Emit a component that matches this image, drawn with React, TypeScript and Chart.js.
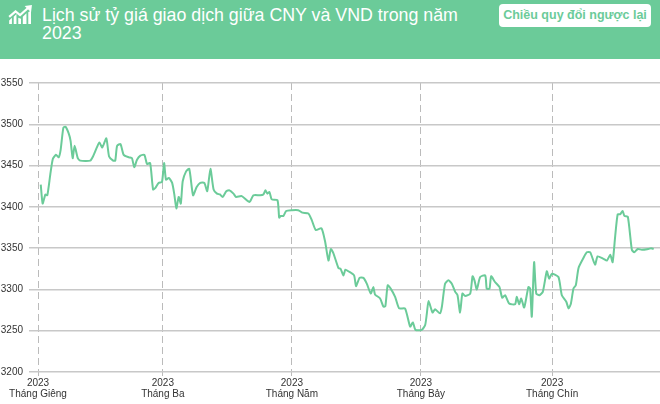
import { useEffect, useRef } from 'react'
import { Chart, registerables } from 'chart.js'

Chart.register(...registerables)

const title = 'Lịch sử tỷ giá giao dịch giữa CNY và VND trong năm 2023'
const buttonLabel = 'Chiều quy đổi ngược lại'

// x = days since 1 Jan 2023
const days = [
  1.3, 2.2, 3.5, 4.4, 5.8, 7, 8.5, 9.8, 10.7, 12, 13, 14.5, 15.4, 16.4, 17.3, 18.8, 20, 24.7, 26, 28,
  29, 30.4, 32.3, 33.6, 35.5, 36.5, 37.4, 39, 40.5, 43, 44.4, 45.5, 46.8, 48.4, 50.3, 51.5, 53, 54.4, 55.5, 57,
  58.6, 59.6, 60.5, 61.8, 63.4, 64.5, 65.4, 66.5, 67.5, 68.4, 70, 71.5, 73.3, 75, 76.7, 78.6, 80, 81.5, 83, 84.6,
  86, 87.3, 89, 90.5, 92.4, 93.6, 96.3, 100, 101.8, 105, 106.5, 107.5, 108.4, 109.4, 110.5, 113.2, 114, 114.7, 116, 117.3,
  120, 123, 125, 127.8, 129.4, 131.3, 134, 135.7, 137.3, 138.4, 139.6, 142, 143, 144.4, 145.3, 146.7, 149.4, 150.3, 152, 153.8,
  155.4, 157.3, 158.5, 159.3, 161.7, 163.3, 164.2, 165.3, 166.7, 168.8, 170.7, 173.5, 175.9, 177.2, 178.4, 181.4, 183, 183.8, 184.6, 186.5,
  187.7, 190, 190.9, 192.4, 194, 195.6, 197.2, 198.3, 199.5, 200.6, 201.9, 204.3, 205.4, 206.3, 207.4, 209, 211.4, 212.1, 213.4, 214.2,
  216, 218.1, 219.4, 220.8, 222.7, 225.5, 226.3, 227.4, 228.4, 229.8, 231.8, 232.6, 233.4, 234.5, 235.5, 237, 238.6, 240.5, 241.6, 242.9,
  246, 247.6, 249.7, 250.8, 251.9, 253.1, 254.2, 255.5, 257.8, 259.4, 261, 263.3, 264.5, 267.3, 268.9, 270.5, 271.6, 272.8, 274, 275.2,
  276.3, 277.2, 278.8, 280.7, 281.8, 283.5, 285.4, 288.5, 289.8, 291,
]

const rates = [
  3427, 3404, 3415, 3414, 3439, 3458, 3463, 3460, 3469, 3496, 3497, 3489, 3480, 3459, 3474, 3459, 3456, 3456, 3461, 3473,
  3478, 3472, 3483, 3461, 3456, 3456, 3474, 3476, 3463, 3460, 3459, 3448, 3457, 3462, 3463, 3452, 3453, 3421, 3423, 3429,
  3430, 3453, 3433, 3435, 3429, 3414, 3398, 3412, 3404, 3431, 3443, 3446, 3414, 3424, 3429, 3429, 3419, 3446, 3421, 3416,
  3415, 3412, 3419, 3420, 3416, 3412, 3413, 3406, 3414, 3414, 3415, 3420, 3416, 3418, 3409, 3408, 3387, 3389, 3389, 3395,
  3396, 3396, 3393, 3392, 3384, 3372, 3374, 3358, 3335, 3349, 3344, 3326, 3325, 3317, 3324, 3322, 3317, 3304, 3314, 3314,
  3307, 3295, 3303, 3294, 3289, 3279, 3280, 3305, 3301, 3291, 3277, 3277, 3255, 3260, 3251, 3251, 3257, 3271, 3286, 3272,
  3276, 3271, 3279, 3307, 3311, 3307, 3297, 3293, 3272, 3295, 3292, 3295, 3316, 3311, 3300, 3315, 3317, 3301, 3301, 3316,
  3309, 3303, 3290, 3293, 3283, 3282, 3291, 3282, 3289, 3278, 3303, 3301, 3267, 3333, 3295, 3293, 3297, 3322, 3313, 3319,
  3315, 3293, 3285, 3277, 3283, 3301, 3305, 3326, 3338, 3345, 3345, 3330, 3340, 3337, 3335, 3342, 3333, 3364, 3391, 3391,
  3395, 3389, 3388, 3348, 3345, 3349, 3348, 3349, 3350, 3349,
]

const monthDays = [0, 59, 120, 181, 243]
const monthNames = ['Tháng Giêng', 'Tháng Ba', 'Tháng Năm', 'Tháng Bảy', 'Tháng Chín']
const yearLabel = '2023'

export default function App() {
  const canvasRef = useRef<HTMLCanvasElement>(null)

  useEffect(() => {
    if (!canvasRef.current) return
    document.body.style.margin = '0'

    const chart = new Chart(canvasRef.current, {
      type: 'line',
      data: {
        datasets: [{
          data: days.map((d, i) => ({ x: d, y: rates[i] })),
          borderColor: '#6bcb99',
          borderWidth: 2,
          pointRadius: 0,
          tension: 0.2,
          fill: false,
        }],
      },
      options: {
        animation: false,
        responsive: false,
        layout: { padding: { top: 24, right: 0, bottom: 3, left: 0 } },
        plugins: { legend: { display: false }, tooltip: { enabled: false } },
        scales: {
          x: {
            type: 'linear',
            min: 0,
            max: 294,
            afterBuildTicks: (axis) => {
              axis.ticks = monthDays.map((value) => ({ value }))
            },
            ticks: {
              autoSkip: false,
              maxRotation: 0,
              padding: 2,
              color: '#333',
              font: { family: 'Liberation Sans', size: 10, lineHeight: 1.05 },
              callback: (value) => [yearLabel, monthNames[monthDays.indexOf(Number(value))]],
            },
            grid: { color: '#bbbbbb', lineWidth: 1, tickLength: 4, tickColor: '#bbbbbb' },
            border: { display: false, dash: [7, 4] },
          },
          y: {
            min: 3200,
            max: 3550,
            afterBuildTicks: (axis) => {
              axis.ticks = [3200, 3250, 3300, 3350, 3400, 3450, 3500, 3550].map((value) => ({ value }))
            },
            afterFit: (axis) => {
              axis.width = 38
            },
            ticks: {
              padding: 6,
              color: '#333',
              font: { family: 'Liberation Sans', size: 10 },
              callback: (value) => String(value),
            },
            grid: { color: '#c8c8c8', lineWidth: 1.5, tickLength: 9, tickColor: '#c8c8c8' },
            border: { display: false },
          },
        },
      },
    })

    return () => chart.destroy()
  }, [])

  return (
    <div style={{ width: 660, height: 404, position: 'relative', overflow: 'hidden', background: '#fff' }}>
      <div style={{ position: 'absolute', left: 0, top: 0, width: 660, height: 59, background: '#6bcb99' }}>
        <svg width="26" height="20" viewBox="0 0 28 22" style={{ position: 'absolute', left: 8, top: 5 }}>
          <path d="M1 13 L8 7 L13 11 L22 3" fill="none" stroke="#fff" strokeWidth="2.4" />
          <path d="M18 1 L26 0 L25 8 Z" fill="#fff" />
          <path d="M1 21 V17 L4 14 V21 Z M6 21 V13 L9 10 V21 Z M11 21 V14 L14 15 V21 Z M16 21 V13 L20 9 V21 Z M22 21 V8 L25 6 V21 Z" fill="#fff" />
        </svg>
        <div style={{
          position: 'absolute', left: 42, top: 7, width: 445,
          color: '#fff', font: '17.8px/17.5px "Liberation Sans", sans-serif',
        }}>
          {title}
        </div>
        <div style={{
          position: 'absolute', left: 499, top: 4, width: 152, height: 23, borderRadius: 4, background: '#fff',
          color: '#6bcb99', font: 'bold 12.5px/23px "Liberation Sans", sans-serif', textAlign: 'center',
        }}>
          {buttonLabel}
        </div>
      </div>
      <canvas ref={canvasRef} width={660} height={345} style={{ position: 'absolute', left: 0, top: 59 }}></canvas>
    </div>
  )
}
